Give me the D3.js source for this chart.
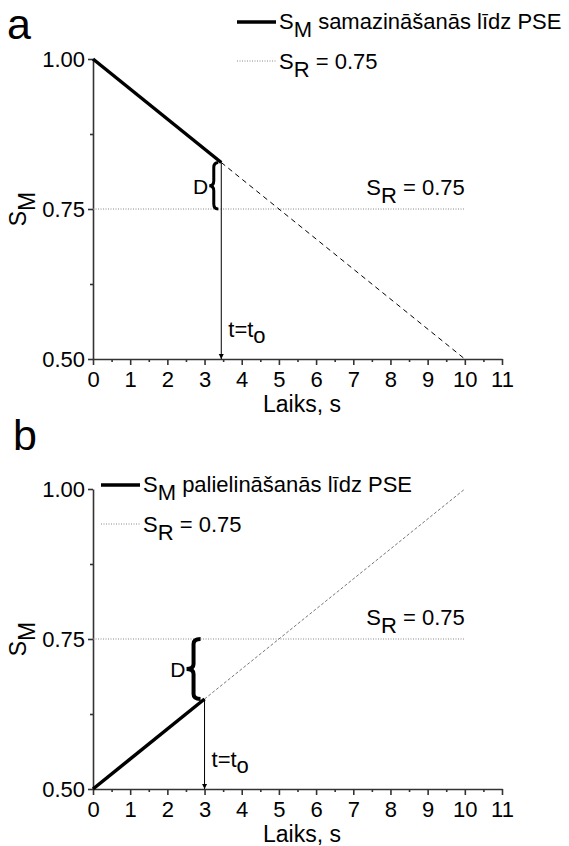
<!DOCTYPE html>
<html>
<head>
<meta charset="utf-8">
<script src="https://cdn.jsdelivr.net/npm/d3@7"></script>
<style>
  body { margin: 0; background: #fff; }
  svg text { font-family: "Liberation Sans", Arial, sans-serif; fill: #000; }
</style>
</head>
<body>
<div id="svg-container"></div>
<script>
// data van de grafiek
const xTicks = [0, 1, 2, 3, 4, 5, 6, 7, 8, 9, 10, 11]
const xMinorTicks = [0.5, 1.5, 2.5, 3.5, 4.5, 5.5, 6.5, 7.5, 8.5, 9.5, 10.5]
const yTicks = [0.50, 0.75, 1.00]
const yMinorTicks = [0.625, 0.875]
const srValue = 0.75
const srTimes = [0, 10]

// paneel a
const aSolidT = [0, 3.45]
const aSolidS = [1.00, 0.8275]
const aDashT = [3.45, 10]
const aDashS = [0.8275, 0.50]
const aT0 = 3.45
const aLegendText = 'samazināšanās līdz PSE'

// paneel b
const bSolidT = [0, 3]
const bSolidS = [0.50, 0.65]
const bDashT = [3, 10]
const bDashS = [0.65, 1.00]
const bT0 = 3
const bLegendText = 'palielināšanās līdz PSE'

const width = 569
const height = 846
const font = 22

const svg = d3.select('#svg-container')
    .append('svg').attr('width', width).attr('height', height)

//pijlpunt
svg.append('defs').append('marker')
    .attr('id', 'arrow')
    .attr('viewBox', '0 0 10 10')
    .attr('refX', 10).attr('refY', 5)
    .attr('markerWidth', 5).attr('markerHeight', 9)
    .attr('markerUnits', 'userSpaceOnUse')
    .attr('orient', 'auto')
    .append('path').attr('d', 'M0,0 L10,5 L0,10 Z').attr('fill', '#000')

const zip = (ts, ss) => ts.map((t, i) => ({ t: t, s: ss[i] }))

// S met subscript
function subText(sel, main, sub, rest, size) {
    sel.append('tspan').text(main)
    sel.append('tspan').attr('dy', size * 0.38).text(sub)
    if (rest) sel.append('tspan').attr('dy', -size * 0.38).text(rest)
}

function drawPanel(p) {
    const x = d3.scaleLinear().domain([0, 11]).range([93, 502])
    const y = d3.scaleLinear().domain([0.5, 1.0]).range([p.bottom, p.bottom - 300])
    const g = svg.append('g')

    // paneel letter
    g.append('text').attr('x', p.letterX).attr('y', p.letterY)
        .style('font-size', '43px').text(p.letter)

    // assen
    const xAxisG = g.append('g').attr('transform', `translate(0,${p.bottom})`)
        .call(d3.axisBottom(x).tickValues(xTicks).tickSize(6).tickSizeOuter(0).tickPadding(6))
    xAxisG.selectAll('text').style('font-size', font + 'px')
    g.append('g').attr('transform', `translate(0,${p.bottom})`)
        .call(d3.axisBottom(x).tickValues(xMinorTicks).tickSize(3).tickFormat(''))
        .select('.domain').remove()

    const yAxisG = g.append('g').attr('transform', 'translate(93,0)')
        .call(d3.axisLeft(y).tickValues(yTicks).tickSize(5).tickSizeOuter(0).tickPadding(3)
            .tickFormat(d3.format('.2f')))
    yAxisG.selectAll('text').style('font-size', font + 'px')
    g.append('g').attr('transform', 'translate(93,0)')
        .call(d3.axisLeft(y).tickValues(yMinorTicks).tickSize(3).tickFormat(''))
        .select('.domain').remove()
    g.selectAll('.domain, .tick line').attr('stroke', '#333').attr('stroke-width', 1.6)

    // as labels
    g.append('text').attr('x', 302).attr('y', p.bottom + 53)
        .attr('text-anchor', 'middle').style('font-size', '23px').text('Laiks, s')
    const yl = g.append('text')
        .attr('transform', `translate(26,${y(0.75)}) rotate(-90)`)
        .attr('text-anchor', 'middle').style('font-size', '23px')
    subText(yl, 'S', 'M', null, 23)

    // S_R lijn
    const line = d3.line().x(d => x(d.t)).y(d => y(d.s))
    g.append('path').datum(zip(srTimes, [srValue, srValue]))
        .attr('d', line).attr('fill', 'none')
        .attr('stroke', '#888').attr('stroke-width', 1).attr('stroke-dasharray', '1,1.5')
    const sr = g.append('text').attr('x', x(10)).attr('y', y(srValue) - 14)
        .attr('text-anchor', 'end').style('font-size', font + 'px')
    subText(sr, 'S', 'R', ' = 0.75', font)

    // stippellijn (extrapolatie)
    g.append('path').datum(zip(p.dashT, p.dashS))
        .attr('d', line).attr('fill', 'none')
        .attr('stroke', p.dashColor).attr('stroke-width', 1).attr('stroke-dasharray', p.dash)

    // pijl naar t0
    const s0 = p.solidS[1]
    g.append('line')
        .attr('x1', x(p.t0)).attr('x2', x(p.t0))
        .attr('y1', y(s0)).attr('y2', p.bottom)
        .attr('stroke', '#000').attr('stroke-width', 1).attr('marker-end', 'url(#arrow)')
    const tl = g.append('text').attr('x', x(p.t0) + 7).attr('y', p.bottom - 22)
        .style('font-size', font + 'px')
    subText(tl, 't=t', 'o', null, font * 0.75)

    // doorgetrokken lijn
    g.append('path').datum(zip(p.solidT, p.solidS))
        .attr('d', line).attr('fill', 'none')
        .attr('stroke', '#000').attr('stroke-width', 3.5)

    // accolade D
    const bx = x(p.t0) - p.braceGap
    const y1 = Math.min(y(s0), y(srValue)), y2 = Math.max(y(s0), y(srValue))
    const ym = (y1 + y2) / 2, w = p.braceW, q = 5
    const bm = bx - w / 2
    g.append('path')
        .attr('d', `M${bx},${y1} Q${bm},${y1} ${bm},${y1 + q} L${bm},${ym - q} Q${bm},${ym} ${bx - w},${ym}` +
            ` Q${bm},${ym} ${bm},${ym + q} L${bm},${y2 - q} Q${bm},${y2} ${bx},${y2}`)
        .attr('fill', 'none').attr('stroke', '#000').attr('stroke-width', p.braceStroke)
    g.append('text').attr('x', bx - w - 1).attr('y', ym + 8)
        .attr('text-anchor', 'end').style('font-size', '21px').text('D')

    // legenda
    const lg = g.append('g').attr('transform', `translate(${p.legX},${p.legY})`)
    lg.append('line').attr('x1', 0).attr('x2', 39).attr('y1', 0).attr('y2', 0)
        .attr('stroke', '#000').attr('stroke-width', 3.5)
    const l1 = lg.append('text').attr('x', 42).attr('y', 7).style('font-size', font + 'px')
    subText(l1, 'S', 'M', ' ' + p.legendText, font)
    lg.append('line').attr('x1', 0).attr('x2', 39).attr('y1', 39).attr('y2', 39)
        .attr('stroke', '#888').attr('stroke-width', 1).attr('stroke-dasharray', '1,1.5')
    const l2 = lg.append('text').attr('x', 42).attr('y', 47).style('font-size', font + 'px')
    subText(l2, 'S', 'R', ' = 0.75', font)
}

drawPanel({
    letter: 'a', letterX: 7, letterY: 39, bottom: 359,
    solidT: aSolidT, solidS: aSolidS, dashT: aDashT, dashS: aDashS, t0: aT0,
    dash: '5,4', dashColor: '#000', braceGap: 3, braceW: 9, braceStroke: 3,
    legX: 237, legY: 22, legendText: aLegendText
})

drawPanel({
    letter: 'b', letterX: 13, letterY: 450, bottom: 789,
    solidT: bSolidT, solidS: bSolidS, dashT: bDashT, dashS: bDashS, t0: bT0,
    dash: '3,2', dashColor: '#777', braceGap: 4, braceW: 14, braceStroke: 4,
    legX: 101, legY: 485, legendText: bLegendText
})
</script>
</body>
</html>
